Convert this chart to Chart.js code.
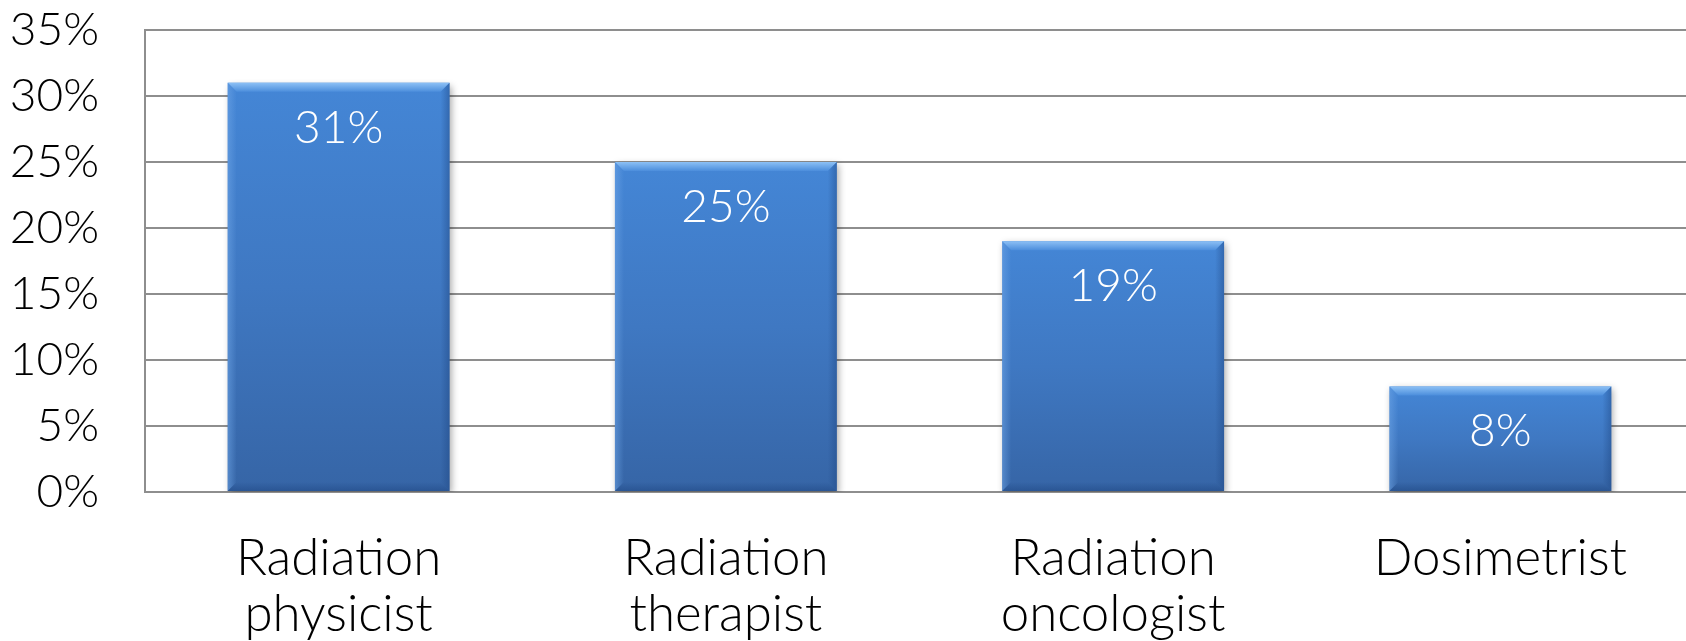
<!DOCTYPE html>
<html>
<head>
<meta charset="utf-8">
<script src="https://cdn.jsdelivr.net/npm/chart.js@4/dist/chart.umd.min.js"></script>
<style>
  html, body { margin: 0; padding: 0; background: #fff; overflow: hidden; }
  #wrap { position: relative; width: 1694px; height: 641px; }
</style>
</head>
<body>
<div id="wrap"><canvas id="c"></canvas></div>
<script>
// Share of respondents by profession
const categories = [
  ['Radiation', 'physicist'],
  ['Radiation', 'therapist'],
  ['Radiation', 'oncologist'],
  ['Dosimetrist']
];
const shares = [31, 25, 19, 8];
const yTicks = [0, 5, 10, 15, 20, 25, 30, 35];

const FONT = 'Lato, "Open Sans", sans-serif';

// Vertical gradient per bar, running from its top down to the axis
function barFill(ctx) {
  const chart = ctx.chart;
  const y = chart.scales.y;
  if (!y || !chart.chartArea) return '#3f7cc8';
  const v = ctx.raw;
  const top = y.getPixelForValue(v);
  const bottom = y.getPixelForValue(0);
  const g = chart.ctx.createLinearGradient(0, top, 0, bottom);
  g.addColorStop(0, '#4486d6');
  g.addColorStop(0.5, '#3f78c2');
  g.addColorStop(1, '#3665a6');
  return g;
}

// Soft drop shadow under the bars
const shadowPlugin = {
  id: 'barShadow',
  beforeDatasetDraw(chart) {
    const c = chart.ctx;
    c.save();
    c.shadowColor = 'rgba(0,0,0,0.35)';
    c.shadowBlur = 7;
    c.shadowOffsetX = 2;
    c.shadowOffsetY = 3;
  },
  afterDatasetDraw(chart) {
    chart.ctx.restore();
  }
};

// Bevelled edges and the value printed inside each bar
const bevelPlugin = {
  id: 'bevelLabels',
  afterDatasetsDraw(chart) {
    const c = chart.ctx;
    const meta = chart.getDatasetMeta(0);
    const b = 9;
    meta.data.forEach((el, i) => {
      const p = el.getProps(['x', 'y', 'base', 'width'], true);
      const l = p.x - p.width / 2, r = p.x + p.width / 2;
      const t = p.y, bt = p.base;
      c.save();
      // top facet
      let g = c.createLinearGradient(0, t, 0, t + b);
      g.addColorStop(0, '#8cc0f5');
      g.addColorStop(1, '#4c8edc');
      c.fillStyle = g;
      c.beginPath();
      c.moveTo(l, t); c.lineTo(r, t); c.lineTo(r - b, t + b); c.lineTo(l + b, t + b); c.closePath();
      c.fill();
      // left facet
      g = c.createLinearGradient(l, 0, l + b, 0);
      g.addColorStop(0, 'rgba(110,165,230,0.55)');
      g.addColorStop(1, 'rgba(110,165,230,0)');
      c.fillStyle = g;
      c.beginPath();
      c.moveTo(l, t); c.lineTo(l + b, t + b); c.lineTo(l + b, bt - b); c.lineTo(l, bt); c.closePath();
      c.fill();
      // right facet
      g = c.createLinearGradient(r - b, 0, r, 0);
      g.addColorStop(0, 'rgba(30,70,130,0)');
      g.addColorStop(1, 'rgba(30,70,130,0.45)');
      c.fillStyle = g;
      c.beginPath();
      c.moveTo(r, t); c.lineTo(r - b, t + b); c.lineTo(r - b, bt - b); c.lineTo(r, bt); c.closePath();
      c.fill();
      // bottom facet
      g = c.createLinearGradient(0, bt - b, 0, bt);
      g.addColorStop(0, 'rgba(30,70,130,0)');
      g.addColorStop(1, 'rgba(30,70,130,0.5)');
      c.fillStyle = g;
      c.beginPath();
      c.moveTo(l, bt); c.lineTo(l + b, bt - b); c.lineTo(r - b, bt - b); c.lineTo(r, bt); c.closePath();
      c.fill();
      // value label
      c.fillStyle = '#ffffff';
      c.font = '300 46px ' + FONT;
      c.textAlign = 'center';
      c.textBaseline = 'alphabetic';
      c.fillText(shares[i] + '%', p.x, t + 60);
      c.restore();
    });
  }
};

new Chart(document.getElementById('c'), {
  type: 'bar',
  data: {
    labels: categories,
    datasets: [{
      data: shares,
      backgroundColor: barFill,
      borderWidth: 0,
      categoryPercentage: 1,
      barPercentage: 0.573
    }]
  },
  options: {
    responsive: true,
    maintainAspectRatio: false,
    animation: false,
    layout: { padding: { top: 30, right: 0, bottom: 0, left: 0 } },
    plugins: {
      legend: { display: false },
      tooltip: { enabled: false }
    },
    scales: {
      x: {
        grid: { display: false, drawTicks: false },
        border: { display: true, color: '#8e8e8e', width: 2 },
        ticks: {
          color: '#000',
          font: { family: FONT, size: 51, weight: '300', lineHeight: 1.1 },
          padding: 38,
          maxRotation: 0,
          autoSkip: false
        },
        afterFit(scale) {
          scale.height = 149;
          scale.paddingLeft = 0;
          scale.paddingRight = 0;
        }
      },
      y: {
        min: 0,
        max: 35,
        afterBuildTicks(scale) { scale.ticks = yTicks.map(v => ({ value: v })); },
        grid: { color: '#8e8e8e', lineWidth: 2, drawTicks: false },
        border: { display: true, color: '#8e8e8e', width: 2 },
        ticks: {
          color: '#000',
          font: { family: FONT, size: 46, weight: '300' },
          padding: 46,
          callback: v => v + '%'
        },
        afterFit(scale) {
          scale.width = 145;
          scale.paddingTop = 0;
          scale.paddingBottom = 0;
        }
      }
    }
  },
  plugins: [shadowPlugin, bevelPlugin]
});
</script>
</body>
</html>
